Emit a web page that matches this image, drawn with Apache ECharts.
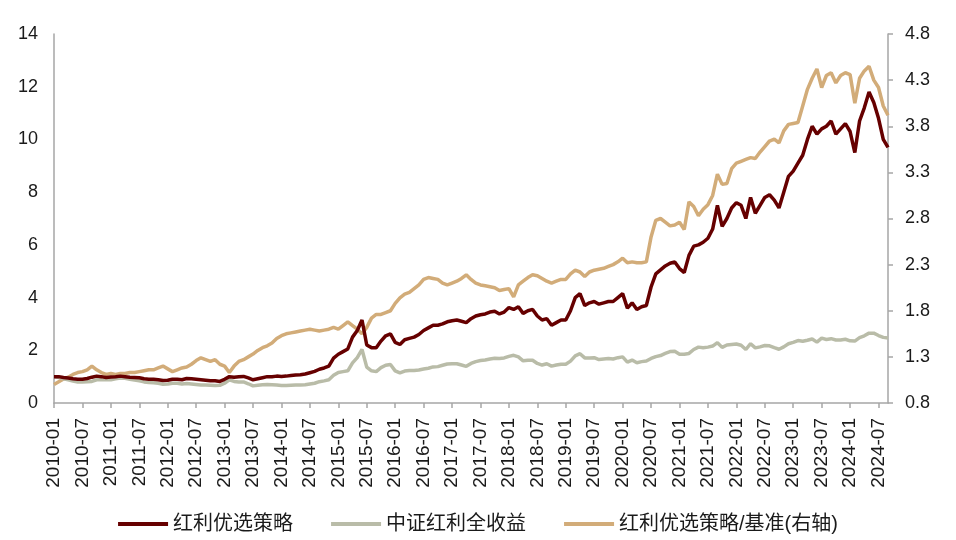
<!DOCTYPE html>
<html>
<head>
<meta charset="utf-8">
<script src="https://cdn.jsdelivr.net/npm/echarts@6/dist/echarts.min.js"></script>
<style>html,body{margin:0;padding:0;background:#fff}#c{width:956px;height:540px}</style>
</head>
<body>
<div id="c"></div>
<script>
// Monthly categories 2010-01 .. 2024-09
var startYear = 2010, monthCount = 177;
var categories = [];
for (var k = 0; k < monthCount; k++) {
  var yy = startYear + Math.floor(k / 12), mm = (k % 12) + 1;
  categories.push(yy + '-' + (mm < 10 ? '0' + mm : mm));
}

var seriesNames = ['红利优选策略', '中证红利全收益', '红利优选策略/基准(右轴)'];

// 红利优选策略 (left axis)
var strategy = [
  1.0, 1.0, 0.97, 0.95, 0.92, 0.9, 0.9, 0.93, 0.98, 1.02, 1.0, 0.97,
  0.99, 1.0, 1.02, 1.0, 0.98, 0.97, 0.96, 0.92, 0.9, 0.9, 0.88, 0.85,
  0.86, 0.9, 0.9, 0.88, 0.93, 0.92, 0.9, 0.88, 0.86, 0.84, 0.84, 0.82,
  0.9, 1.0, 0.98, 1.0, 1.01, 0.95, 0.88, 0.92, 0.96, 1.0, 1.0, 1.02,
  1.01, 1.02, 1.04, 1.06, 1.07, 1.1, 1.15, 1.2, 1.28, 1.33, 1.4, 1.7,
  1.85, 1.95, 2.05, 2.5, 2.75, 3.15, 2.2, 2.1, 2.1, 2.35, 2.55, 2.62,
  2.3, 2.22, 2.4, 2.45, 2.5, 2.6, 2.75, 2.85, 2.95, 2.95, 3.0, 3.08,
  3.12, 3.15, 3.1, 3.05, 3.2, 3.3, 3.35, 3.38, 3.45, 3.48, 3.38, 3.45,
  3.62, 3.55, 3.65, 3.4, 3.5, 3.55, 3.3, 3.15, 3.2, 2.95, 3.05, 3.15,
  3.15, 3.5, 4.0, 4.15, 3.7, 3.8, 3.85, 3.75, 3.8, 3.85, 3.85, 4.0,
  4.15, 3.6, 3.8, 3.55, 3.65, 3.7, 4.4, 4.9, 5.05, 5.2, 5.3, 5.35,
  5.1, 4.95, 5.6, 5.95, 6.0, 6.1, 6.25, 6.6, 7.5, 6.7, 7.0, 7.4,
  7.6, 7.5, 7.0, 7.8, 7.2, 7.5, 7.8, 7.9, 7.7, 7.4, 8.0, 8.6,
  8.8, 9.1, 9.4, 10.0, 10.5, 10.2, 10.4, 10.5, 10.7, 10.2, 10.4, 10.6,
  10.3, 9.5, 10.7, 11.2, 11.8, 11.4, 10.8, 10.0, 9.7
];

// 中证红利全收益 (left axis)
var benchmark = [
  1.0, 0.97, 0.92, 0.88, 0.83, 0.8, 0.8, 0.81, 0.82, 0.88, 0.89, 0.88,
  0.88, 0.92, 0.95, 0.94, 0.9, 0.87, 0.84, 0.8, 0.78, 0.77, 0.75, 0.71,
  0.72, 0.75, 0.75, 0.72, 0.74, 0.72, 0.7, 0.68, 0.68, 0.67, 0.66, 0.67,
  0.75, 0.88, 0.82, 0.8, 0.8, 0.73, 0.65, 0.67, 0.69, 0.7, 0.69, 0.68,
  0.66, 0.66, 0.67, 0.68, 0.68, 0.69, 0.72, 0.75, 0.81, 0.84, 0.88, 1.05,
  1.16, 1.19, 1.22, 1.52, 1.72, 2.03, 1.36, 1.22, 1.19, 1.34, 1.43, 1.46,
  1.22, 1.14, 1.21, 1.23, 1.23, 1.25, 1.29, 1.32, 1.37, 1.38, 1.43, 1.48,
  1.49, 1.49, 1.44, 1.39, 1.5, 1.57, 1.61, 1.63, 1.67, 1.7, 1.69, 1.71,
  1.77, 1.81, 1.75, 1.6, 1.62, 1.62, 1.5, 1.44, 1.49, 1.4, 1.44, 1.47,
  1.47, 1.59, 1.79, 1.87, 1.71, 1.71, 1.72, 1.65, 1.67, 1.69, 1.67, 1.72,
  1.75, 1.55, 1.63, 1.53, 1.57, 1.59, 1.69, 1.76, 1.8, 1.88, 1.95, 1.96,
  1.85, 1.85, 1.88, 2.03, 2.12, 2.1, 2.12, 2.16, 2.29, 2.11, 2.2, 2.22,
  2.24, 2.19, 2.03, 2.25, 2.09, 2.13, 2.18, 2.17, 2.1, 2.04, 2.13, 2.25,
  2.3, 2.37, 2.34, 2.38, 2.43, 2.31, 2.46, 2.41, 2.44, 2.39, 2.39, 2.42,
  2.36, 2.35, 2.48, 2.55, 2.65, 2.65, 2.56, 2.49, 2.47
];

// 红利优选策略/基准 (right axis)
var ratio = [
  1.0, 1.03, 1.06, 1.08, 1.11, 1.13, 1.14, 1.16, 1.2, 1.16, 1.13, 1.11,
  1.12, 1.11, 1.12, 1.12, 1.13, 1.13, 1.14, 1.15, 1.16, 1.16, 1.18, 1.2,
  1.17, 1.14, 1.16, 1.18, 1.19, 1.22, 1.26, 1.29, 1.27, 1.25, 1.27, 1.22,
  1.2, 1.13, 1.2, 1.25, 1.27, 1.3, 1.33, 1.37, 1.4, 1.42, 1.45, 1.5,
  1.53, 1.55, 1.56, 1.57, 1.58, 1.59, 1.6, 1.59, 1.58, 1.59, 1.6, 1.62,
  1.6, 1.64, 1.68, 1.64, 1.6, 1.55, 1.62, 1.72, 1.76, 1.76, 1.78, 1.8,
  1.88, 1.94, 1.98, 2.0, 2.04, 2.08, 2.14, 2.16, 2.15, 2.14, 2.1, 2.08,
  2.1, 2.12, 2.15, 2.19, 2.14, 2.1, 2.08, 2.07, 2.06, 2.05, 2.02, 2.03,
  2.04, 1.95, 2.08, 2.12, 2.16, 2.19, 2.18, 2.15, 2.12, 2.1, 2.12, 2.14,
  2.14, 2.2, 2.24, 2.22, 2.17, 2.22, 2.24, 2.25, 2.26, 2.28, 2.3, 2.33,
  2.37, 2.32, 2.33, 2.32, 2.32, 2.33, 2.6, 2.78, 2.8, 2.76, 2.72, 2.73,
  2.76, 2.68, 2.98, 2.93, 2.83, 2.9, 2.95, 3.05, 3.28, 3.17, 3.18, 3.34,
  3.4, 3.42, 3.44, 3.46, 3.45, 3.52, 3.58, 3.64, 3.66, 3.62, 3.75, 3.82,
  3.83, 3.84, 4.02, 4.2, 4.32, 4.42, 4.22, 4.35, 4.38, 4.27, 4.35, 4.38,
  4.36, 4.05, 4.32, 4.4, 4.45, 4.3, 4.22, 4.02, 3.92
];

var leftTicks = [0, 14, 2];      // min, max, interval
var rightTicks = [0.8, 4.8, 0.5];

var colors = ['#660000', '#B9BCA8', '#D2AC79'];
var axisGrey = '#A6A6A6';
var latin = 'Liberation Sans, Arial, sans-serif';
var cjk = '"Liberation Sans", "Noto Sans CJK SC", sans-serif';

var chart = echarts.init(document.getElementById('c'), null, {renderer: 'canvas'});
chart.setOption({
  animation: false,
  color: colors,
  grid: {left: 54, right: 68, top: 34, bottom: 137, containLabel: false},
  legend: {
    data: seriesNames,
    left: 'center',
    top: 509,
    icon: 'rect',
    itemWidth: 50,
    itemHeight: 4,
    itemGap: 38,
    textStyle: {fontSize: 20, color: '#1a1a1a', fontFamily: cjk, padding: [0, 0, 0, 0]}
  },
  xAxis: {
    type: 'category',
    data: categories,
    boundaryGap: false,
    axisLine: {lineStyle: {color: axisGrey, width: 1.5}},
    axisTick: {show: true, interval: 5, length: 5, lineStyle: {color: axisGrey, width: 1.5}},
    axisLabel: {interval: 5, rotate: 90, margin: 15, fontSize: 19, color: '#1a1a1a', fontFamily: latin},
    splitLine: {show: false}
  },
  yAxis: [
    {
      type: 'value',
      min: leftTicks[0], max: leftTicks[1], interval: leftTicks[2],
      axisLine: {show: true, lineStyle: {color: axisGrey, width: 1.5}},
      axisTick: {show: false},
      axisLabel: {fontSize: 18, color: '#1a1a1a', margin: 16, fontFamily: latin},
      splitLine: {show: false}
    },
    {
      type: 'value',
      position: 'right',
      min: rightTicks[0], max: rightTicks[1], interval: rightTicks[2],
      axisLine: {show: true, lineStyle: {color: axisGrey, width: 1.5}},
      axisTick: {show: true, length: 5, lineStyle: {color: axisGrey, width: 1.5}},
      axisLabel: {fontSize: 18, color: '#1a1a1a', margin: 17, fontFamily: latin,
        formatter: function (v) { return v.toFixed(1); }},
      splitLine: {show: false}
    }
  ],
  series: [
    {name: seriesNames[0], type: 'line', yAxisIndex: 0, data: strategy, showSymbol: false, symbol: 'none',
      lineStyle: {width: 3.5, color: colors[0]}, itemStyle: {color: colors[0]}, z: 4},
    {name: seriesNames[1], type: 'line', yAxisIndex: 0, data: benchmark, showSymbol: false, symbol: 'none',
      lineStyle: {width: 3.5, color: colors[1]}, itemStyle: {color: colors[1]}, z: 3},
    {name: seriesNames[2], type: 'line', yAxisIndex: 1, data: ratio, showSymbol: false, symbol: 'none',
      lineStyle: {width: 3.5, color: colors[2]}, itemStyle: {color: colors[2]}, z: 2}
  ]
});
</script>
</body>
</html>
